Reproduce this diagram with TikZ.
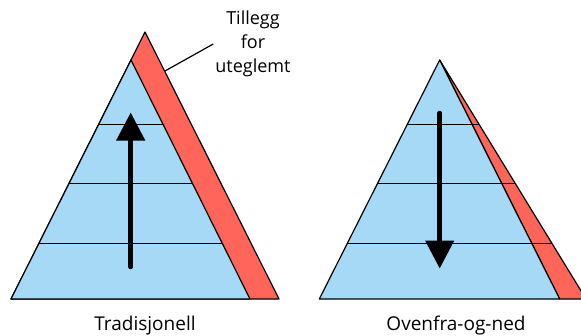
\documentclass[tikz,border=0pt]{standalone}
\usepackage{fontspec}
\setmainfont{Open Sans}
\usetikzlibrary{arrows.meta}
\definecolor{PyramidBlue}{HTML}{A6D9F5}
\definecolor{ExtraRed}{HTML}{FF6659}
\tikzset{
    % Blue pyramid style
    layer/.style={
        fill=PyramidBlue,
        draw=black,
        line width=1.2pt,
        line join=round
    },
    % Red extra part
    extra/.style={
        fill=ExtraRed,
        draw=black,
        line width=1.2pt,
        line join=round
    },
    % Level divider
    divider/.style={
        draw=black,
        line width=1pt
    },
    % Direction arrow
    bigarrow/.style={
        -{Triangle[width=28pt,length=28pt]},
        line width=4.5pt,
        line cap=round
    },
    % Caption under pyramid
    caption/.style={
        font=\fontsize{19}{23}\selectfont,
        anchor=base
    },
    % Note text
    note/.style={
        font=\fontsize{18}{24}\selectfont,
        align=center,
        inner sep=2pt
    }
}
\begin{document}
\begin{tikzpicture}[x=1pt, y=-1pt]
    \useasboundingbox (0,0) rectangle (581,335);

    % Traditional pyramid
    \coordinate (tradleft) at (11,299);
    \coordinate (tradtop) at (145,32);
    \coordinate (tradright) at (279,299);
    \coordinate (tradapex) at (131,60);
    \coordinate (tradbase) at (250,299);
    \filldraw [extra] (tradleft) -- (tradtop) -- (tradright) -- cycle;
    \filldraw [layer] (tradleft) -- (tradapex) -- (tradbase) -- cycle;
    \draw [divider] (98.9,124) -- (162.9,124);
    \draw [divider] (69,183.5) -- (192.5,183.5);
    \draw [divider] (39,243.3) -- (222.3,243.3);
    \coordinate (tradtail) at (130.7,267);
    \coordinate (tradhead) at (130.7,112.5);
    \draw [bigarrow] (tradtail) -- (tradhead);

    % Note on the extra part
    \node (tillegg) [note] at (253,44) {Tillegg\\for\\uteglemt};
    \coordinate (notept) at (165,71);
    \draw [line width=1.2pt] (notept) -- (tillegg.west);

    % Top-down pyramid
    \coordinate (downapex) at (439.7,60);
    \coordinate (downleft) at (319.3,299);
    \coordinate (downbase) at (559.7,299);
    \coordinate (downright) at (586,299);
    \filldraw [extra] (downapex) -- (downright) -- (downbase) -- cycle;
    \filldraw [layer] (downleft) -- (downapex) -- (downbase) -- cycle;
    \draw [divider] (407.5,124) -- (478.7,124);
    \draw [divider] (377.5,183.7) -- (515.2,183.7);
    \draw [divider] (347.3,243.7) -- (551.8,243.7);
    \coordinate (downtail) at (439.7,113);
    \coordinate (downhead) at (439.7,268.5);
    \draw [bigarrow] (downtail) -- (downhead);

    % Captions
    \node (trad) [caption] at (145,330.5) {Tradisjonell};
    \node (down) [caption] at (456,330.5) {Ovenfra-og-ned};
\end{tikzpicture}
\end{document}
